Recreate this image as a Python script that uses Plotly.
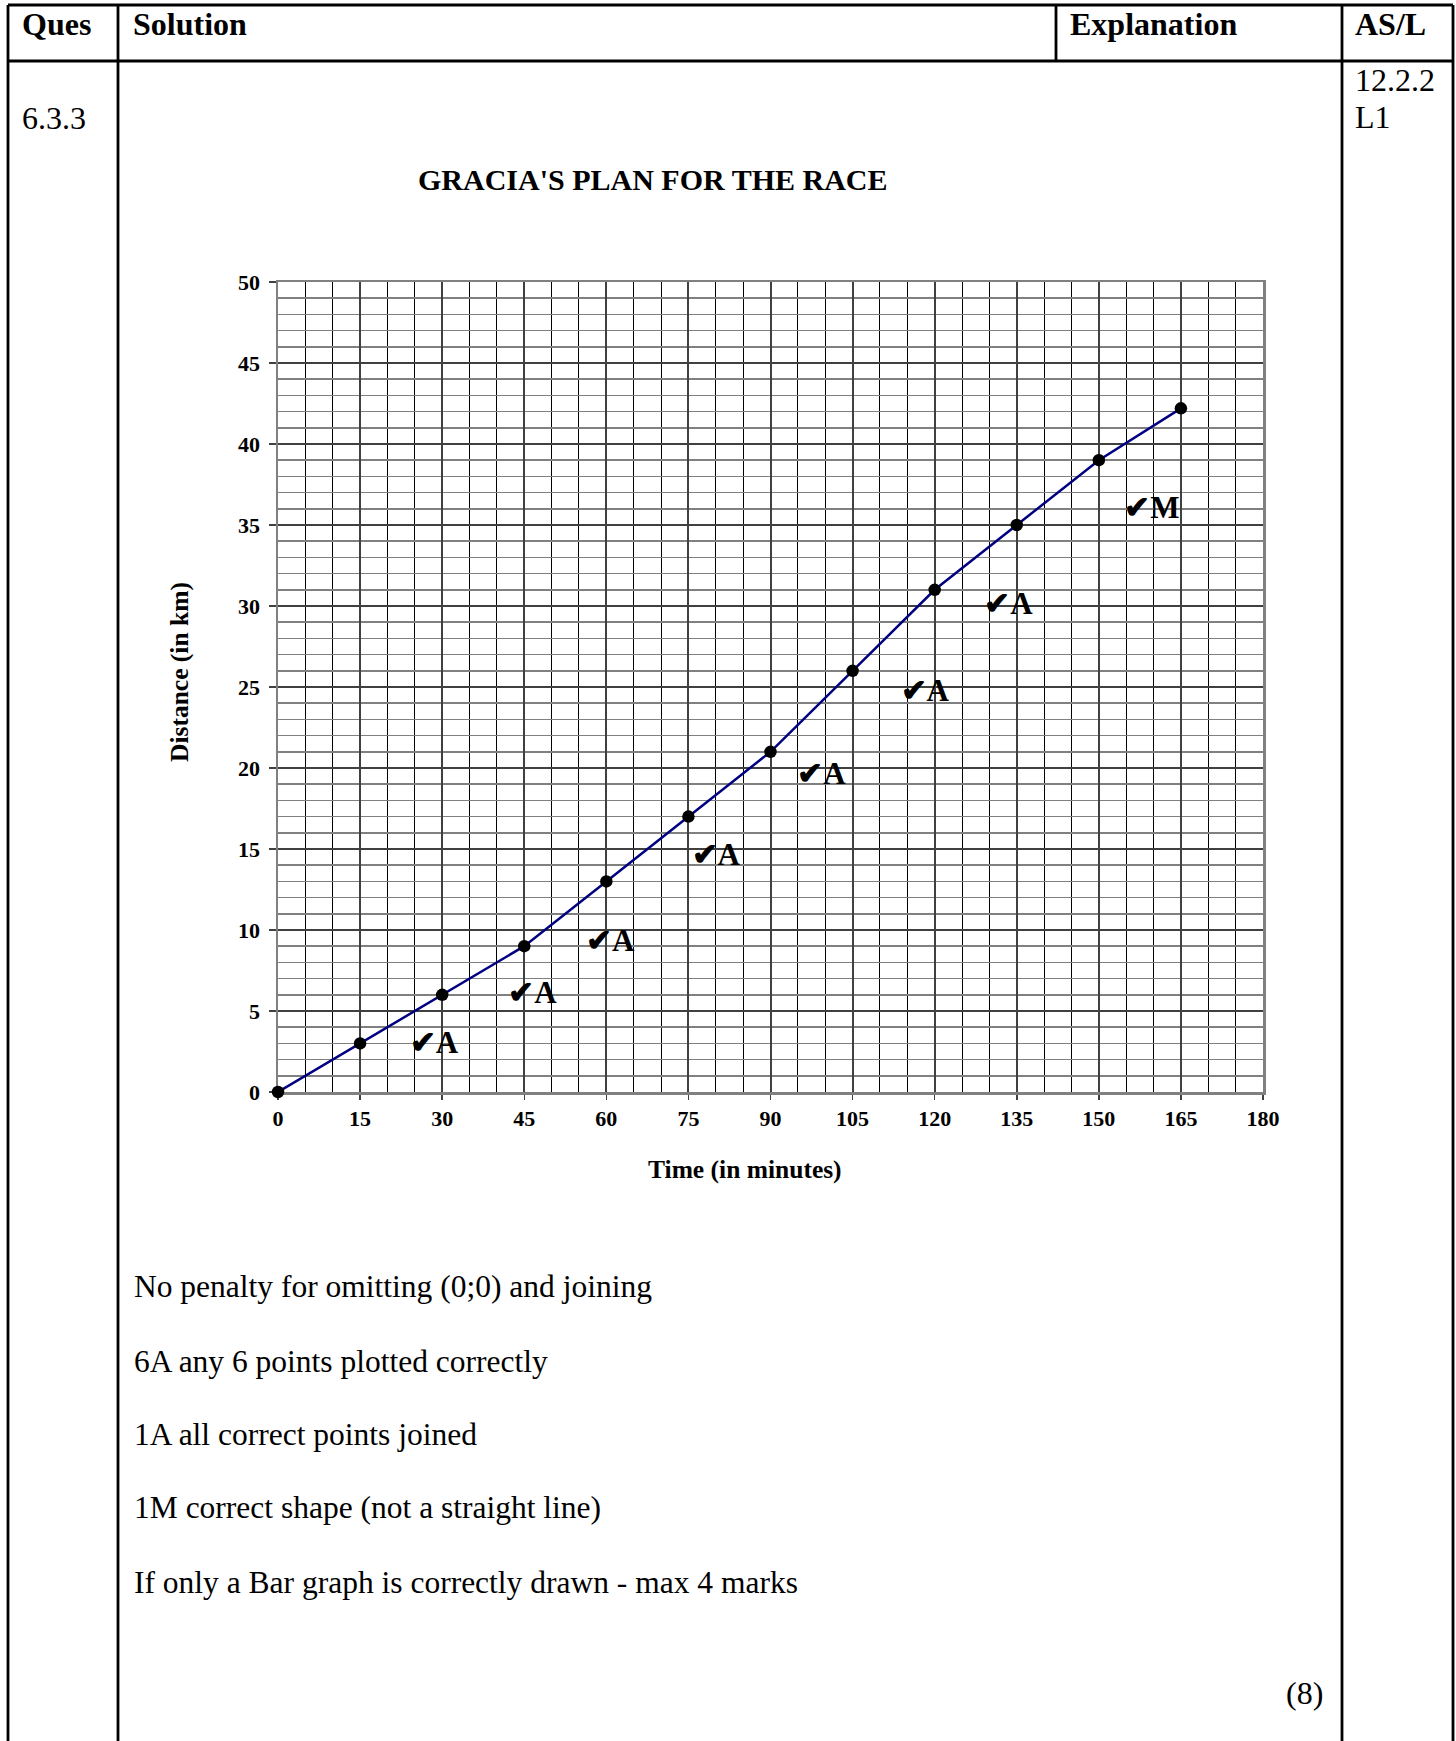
import plotly.graph_objects as go

# ---------------- data ----------------
time_min = [0, 15, 30, 45, 60, 75, 90, 105, 120, 135, 150, 165]
distance_km = [0, 3, 6, 9, 13, 17, 21, 26, 31, 35, 39, 42.2]

mark_labels = ["✔A", "✔A", "✔A", "✔A", "✔A", "✔A", "✔A", "✔M"]
mark_x = [28.5, 46.5, 60.7, 80.0, 99.3, 118.2, 133.5, 159.7]
mark_y = [2.9, 6.0, 9.2, 14.5, 19.5, 24.6, 30.0, 35.9]

x_ticks = [0, 15, 30, 45, 60, 75, 90, 105, 120, 135, 150, 165, 180]
y_ticks = [0, 5, 10, 15, 20, 25, 30, 35, 40, 45, 50]

chart_title = "GRACIA'S PLAN FOR THE RACE"
x_title = "Time (in minutes)"
y_title = "Distance (in km)"

headers = ["Ques", "Solution", "Explanation", "AS/L"]
question_no = "6.3.3"
as_codes = ["12.2.2", "L1"]
notes = [
    "No penalty for omitting (0;0) and joining",
    "6A any 6 points plotted correctly",
    "1A all correct points joined",
    "1M correct shape (not a straight line)",
    "If only a Bar graph is correctly drawn - max 4 marks",
]
total_marks = "(8)"

# ---------------- layout helpers ----------------
W, H = 1456, 1741
SERIF = "Liberation Serif, Times New Roman, serif"


def px(x):
    return x / W


def py(y):
    return 1 - y / H


fig = go.Figure()

fig.add_trace(go.Scatter(
    x=time_min, y=distance_km, mode="lines+markers",
    line=dict(color="#000080", width=2.5),
    marker=dict(color="black", size=12.5),
    cliponaxis=False,
    showlegend=False, hoverinfo="skip",
))

fig.add_trace(go.Scatter(
    x=mark_x, y=mark_y, mode="text", text=mark_labels,
    textposition="middle center",
    textfont=dict(family=SERIF, size=31, color="black", weight=700),
    showlegend=False, hoverinfo="skip",
))

x0p, x1p = 278, 1263
y0p, y1p = 1092, 282

axis_common = dict(
    showline=True, mirror=True, linecolor="#808080", linewidth=2.5,
    showgrid=True, gridcolor="#404040", gridwidth=2,
    zeroline=False, ticks="outside", tickcolor="#404040", tickwidth=1.5,
    tickfont=dict(family=SERIF, size=22, color="black", weight=700),
    fixedrange=True, automargin=False, layer="below traces",
)

fig.update_layout(
    width=W, height=H,
    margin=dict(l=0, r=0, t=0, b=0, pad=0, autoexpand=False),
    paper_bgcolor="white", plot_bgcolor="white",
    xaxis=dict(
        domain=[px(x0p), px(x1p)], range=[0, 180],
        tickmode="array", tickvals=x_ticks, ticktext=[str(v) for v in x_ticks],
        ticklen=5, ticklabelstandoff=0,
        minor=dict(dtick=5, tick0=0, showgrid=True, gridcolor="black", gridwidth=1),
        **axis_common,
    ),
    yaxis=dict(
        domain=[py(y0p), py(y1p)], range=[0, 50],
        tickmode="array", tickvals=y_ticks, ticktext=[str(v) for v in y_ticks],
        ticklen=7, ticklabelstandoff=4,
        minor=dict(dtick=1, tick0=0, showgrid=True, gridcolor="#808080", gridwidth=1.5),
        **axis_common,
    ),
)

# ---------------- table lines ----------------
LW = 2.8
table_lines = [
    (8, 5, 1453, 5),        # top
    (8, 61, 1453, 61),      # header bottom
    (8, 5, 8, H + 5),       # left
    (118, 5, 118, H + 5),
    (1056, 5, 1056, 61),
    (1342, 5, 1342, H + 5),
    (1453, 5, 1453, H + 5),  # right
]
for xa, ya, xb, yb in table_lines:
    fig.add_shape(type="line", xref="paper", yref="paper",
                  x0=px(xa), y0=py(ya), x1=px(xb), y1=py(yb),
                  line=dict(color="black", width=LW))


def text(x, y, s, size=32, bold=False, xanchor="left", angle=0):
    fig.add_annotation(
        xref="paper", yref="paper", x=px(x), y=py(y), text=s,
        showarrow=False, xanchor=xanchor, yanchor="middle", textangle=angle,
        font=dict(family=SERIF, size=size, color="black", weight=700 if bold else 400),
    )


header_x = [20, 131, 1068, 1353]
for hx, h in zip(header_x, headers):
    text(hx, 24, h, size=32, bold=True)

text(20, 118, question_no, size=32)
text(1353, 80, as_codes[0], size=32)
text(1353, 117, as_codes[1], size=32)

text(653, 179, chart_title, size=30, bold=True, xanchor="center")
text(745, 1169, x_title, size=25.5, bold=True, xanchor="center")
text(179, 672, y_title, size=25.5, bold=True, xanchor="center", angle=-90)

note_y = [1286, 1361, 1434, 1507, 1582]
for ny, n in zip(note_y, notes):
    text(132, ny, n, size=31.5)

text(1325, 1693, total_marks, size=32, xanchor="right")

fig.write_html(
    "out.html",
    config={"displayModeBar": False, "staticPlot": True},
    post_script="document.documentElement.style.margin='0';"
                "document.body.style.margin='0';"
                "document.body.style.overflow='hidden';",
)
